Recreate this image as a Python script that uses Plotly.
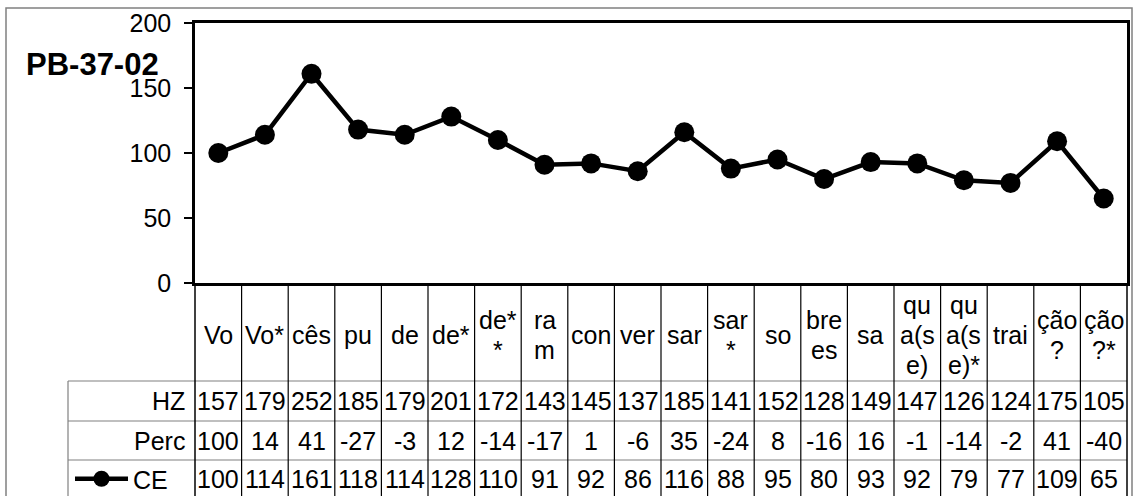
################################
# plot.py
################################

import plotly.graph_objects as go

################################
# Data
################################

syllables = ["Vo", "Vo*", "cês", "pu", "de", "de*", "de**", "ram", "con", "ver",
             "sar", "sar*", "so", "brees", "sa", "qua(se)", "qua(se)*", "trai",
             "ção?", "ção?*"]

# the labels as they wrap inside the narrow table columns
tick_labels = ["Vo", "Vo*", "cês", "pu", "de", "de*", "de*<br>*", "ra<br>m", "con", "ver",
               "sar", "sar<br>*", "so", "bre<br>es", "sa", "qu<br>a(s<br>e)", "qu<br>a(s<br>e)*",
               "trai", "ção<br>?", "ção<br>?*"]

hz = [157, 179, 252, 185, 179, 201, 172, 143, 145, 137,
      185, 141, 152, 128, 149, 147, 126, 124, 175, 105]
perc = [100, 14, 41, -27, -3, 12, -14, -17, 1, -6,
        35, -24, 8, -16, 16, -1, -14, -2, 41, -40]
ce = [100, 114, 161, 118, 114, 128, 110, 91, 92, 86,
      116, 88, 95, 80, 93, 92, 79, 77, 109, 65]

y_ticks = [0, 50, 100, 150, 200]

################################
# Layout helpers (pixels -> paper)
################################

W, H = 1134, 496
L, R, T, B = 195, 7, 23, 213
PW, PH = W - L - R, H - T - B


def px(x):
    return (x - L) / PW


def py(y):
    return (H - B - y) / PH


FONT = "Liberation Sans, Arial, sans-serif"
xs = list(range(len(syllables)))

fig = go.Figure()

fig.add_trace(go.Scatter(
    x=xs, y=ce, name="CE", mode="lines+markers",
    line=dict(color="black", width=4.5),
    marker=dict(color="black", size=20),
    hovertext=syllables,
))

################################
# Data table below the plot
################################

annotations = []

# header row with wrapped syllables
header_mid = py(335)
for i, lab in enumerate(tick_labels):
    lines = lab.split("<br>")
    n = len(lines)
    for j, part in enumerate(lines):
        annotations.append(dict(
            x=i, y=header_mid, xref="x", yref="paper", text=part,
            showarrow=False, xanchor="center", yanchor="middle",
            yshift=-(j - (n - 1) / 2) * 30,
            font=dict(size=25, family=FONT, color="black"),
        ))

rows = [("HZ", hz, 401), ("Perc", perc, 440.5), ("CE", ce, 479)]
for name, vals, yc in rows:
    for i, v in enumerate(vals):
        annotations.append(dict(
            x=i, y=py(yc), xref="x", yref="paper", text=str(v),
            showarrow=False, xanchor="center", yanchor="middle",
            font=dict(size=25, family=FONT, color="black"),
        ))
    if name != "CE":
        annotations.append(dict(
            x=px(187), y=py(yc), xref="paper", yref="paper", text=name,
            showarrow=False, xanchor="right", yanchor="middle",
            font=dict(size=25, family=FONT, color="black"),
        ))

# chart title
annotations.append(dict(
    x=px(24), y=py(64), xref="paper", yref="paper", text="<b>PB-37-02</b>",
    showarrow=False, xanchor="left", yanchor="middle",
    font=dict(size=31, family=FONT, color="black"),
))

shapes = []
# outer chart border
shapes.append(dict(type="rect", xref="paper", yref="paper",
                   x0=px(6), x1=px(1132), y0=py(8), y1=py(520),
                   line=dict(color="#808080", width=1.5)))
# row separators
for yy in [381, 421, 460]:
    shapes.append(dict(type="line", xref="paper", yref="paper",
                       x0=px(68), x1=1, y0=py(yy), y1=py(yy),
                       line=dict(color="#808080", width=1.2)))
# left border of the row label column
shapes.append(dict(type="line", xref="paper", yref="paper",
                   x0=px(68), x1=px(68), y0=py(381), y1=py(520),
                   line=dict(color="#808080", width=1.2)))
# column separators
for k in range(1, len(syllables)):
    shapes.append(dict(type="line", xref="x", yref="paper",
                       x0=k - 0.5, x1=k - 0.5, y0=0, y1=py(520),
                       line=dict(color="black", width=1.2)))
for xe in [0, 1]:
    shapes.append(dict(type="line", xref="paper", yref="paper",
                       x0=xe, x1=xe, y0=0, y1=py(520),
                       line=dict(color="black", width=1.5)))

fig.update_layout(
    width=W, height=H,
    margin=dict(l=L, r=R, t=T, b=B, autoexpand=False),
    paper_bgcolor="white", plot_bgcolor="white",
    font=dict(family=FONT, size=25, color="black"),
    showlegend=True,
    legend=dict(x=px(70), y=py(479), xanchor="left", yanchor="middle",
                bgcolor="rgba(0,0,0,0)", borderwidth=0, itemwidth=53,
                font=dict(size=25, family=FONT, color="black")),
    annotations=annotations,
    shapes=shapes,
)

fig.update_xaxes(range=[-0.5, len(syllables) - 0.5], showticklabels=False,
                 showgrid=False, zeroline=False, showline=True, mirror=True,
                 linecolor="black", linewidth=2.5, ticks="")
fig.update_yaxes(range=[0, 200], tickvals=y_ticks, showgrid=False, zeroline=False,
                 showline=True, mirror=True, linecolor="black", linewidth=2.5,
                 ticks="outside", ticklen=8, tickwidth=1.5, tickcolor="black",
                 ticklabelstandoff=8, tickfont=dict(size=25, family=FONT, color="black"))

# the page body has a default margin; drop it so the chart sits at the corner
fig.write_html("out.html", config={"displayModeBar": False},
               post_script="document.body.style.margin='0';document.body.style.overflow='hidden';")
